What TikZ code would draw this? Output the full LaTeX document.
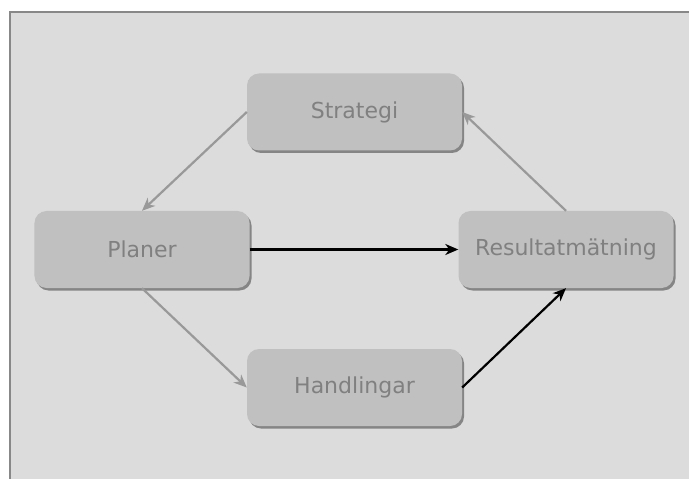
\documentclass[tikz,border=0pt]{standalone}
\usepackage{fontspec}
\setmainfont{DejaVu Sans}
\usetikzlibrary{arrows.meta,shadows}
\definecolor{bgc}{HTML}{DCDCDC}
\definecolor{framec}{HTML}{888888}
\definecolor{boxc}{HTML}{C0C0C0}
\definecolor{shadc}{HTML}{858585}
\definecolor{textc}{HTML}{808080}
\definecolor{linec}{HTML}{999999}
\tikzset{
  box/.style={rectangle, rounded corners=12bp, fill=boxc, minimum width=215bp, minimum height=77bp,
    inner sep=0pt, text=textc, font=\fontsize{22bp}{24bp}\selectfont,
    drop shadow={shadow xshift=2bp, shadow yshift=-2.5bp, fill=shadc, opacity=1}},
  grayarrow/.style={draw=linec, line width=2.2bp, -{Stealth[length=13bp,width=11bp,inset=4bp]}},
  blackarrow/.style={draw=black, line width=2.2bp, -{Stealth[length=13bp,width=11bp,inset=4bp]}}
}
\begin{document}
\begin{tikzpicture}[x=1bp,y=-1bp]
\useasboundingbox (0,0) rectangle (689,479);
\fill[white] (0,0) rectangle (689,479);
\fill[bgc] (10,12) rectangle (689,479);
\draw[framec, line width=2bp] (10,479) -- (10,12) -- (689,12);
\node[box] (str) at (354.5,112) {Strategi};
\node[box] (pla) at (142,249.5) {Planer};
\node[box] (res) at (566,249.5) {Resultatmätning};
\node[box] (han) at (354.5,387.5) {Handlingar};
\draw[grayarrow] (str.west) -- (pla.north);
\draw[grayarrow] (pla.south) -- (han.west);
\draw[grayarrow] (res.north) -- (str.east);
\draw[blackarrow] (pla.east) -- (res.west);
\draw[blackarrow] (han.east) -- (res.south);
\end{tikzpicture}
\end{document}
